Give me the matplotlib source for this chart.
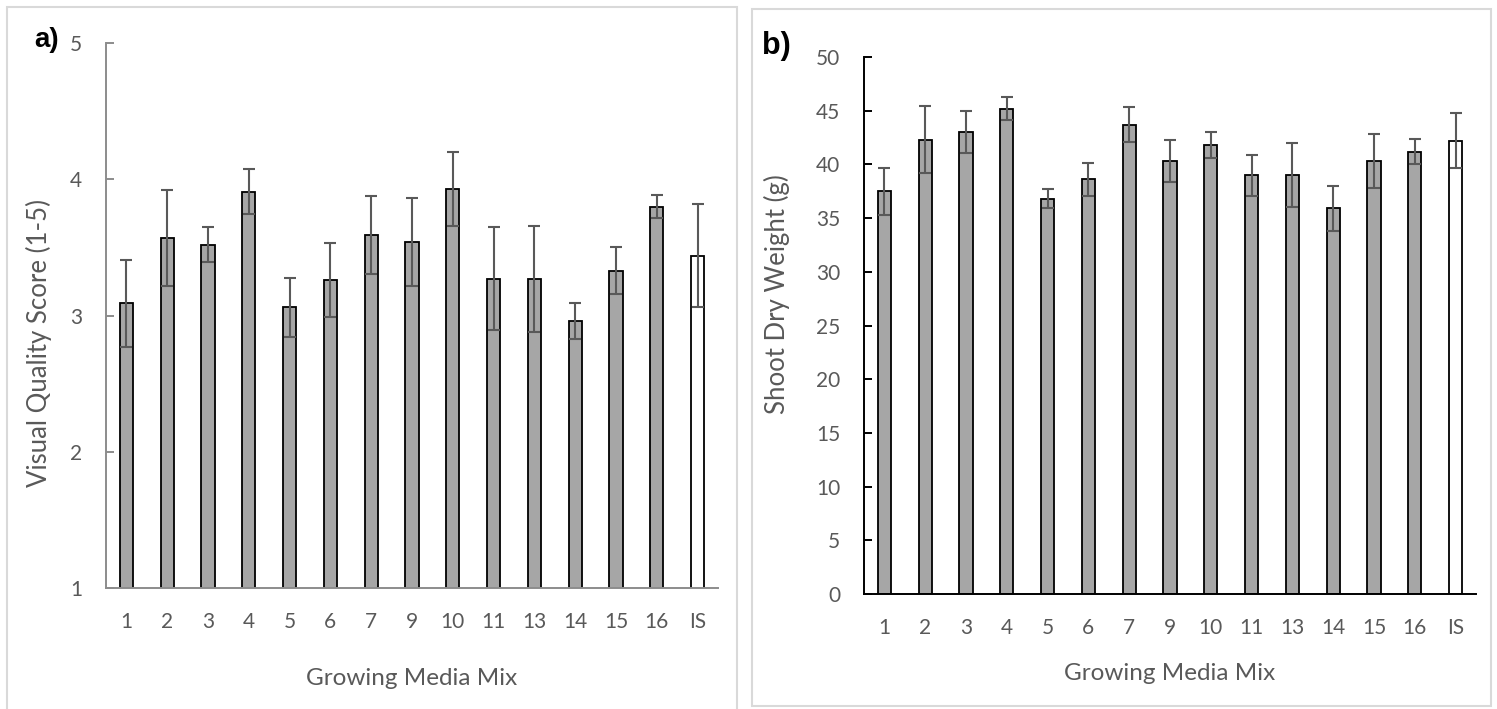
import matplotlib
import numpy as np

matplotlib.use("Agg")

from matplotlib import pyplot as plt
from matplotlib.patches import Rectangle

MIXES = ["1", "2", "3", "4", "5", "6", "7", "9", "10", "11", "13", "14", "15", "16", "IS"]

QUALITY = [3.09, 3.57, 3.52, 3.91, 3.06, 3.26, 3.59, 3.54, 3.93, 3.27, 3.27, 2.96, 3.33, 3.80, 3.44]
QUALITY_ERR = [0.32, 0.35, 0.13, 0.165, 0.215, 0.27, 0.285, 0.32, 0.27, 0.38, 0.39, 0.13, 0.175, 0.085, 0.375]

WEIGHT = [37.5, 42.3, 43.0, 45.2, 36.8, 38.6, 43.7, 40.3, 41.8, 39.0, 39.0, 35.9, 40.3, 41.2, 42.2]
WEIGHT_ERR = [2.2, 3.1, 1.95, 1.1, 0.9, 1.5, 1.65, 1.95, 1.2, 1.9, 3.0, 2.1, 2.5, 1.2, 2.55]

W, H = 1497, 709
TEXT_GREY = "#595959"
BAR_GREY = "#a6a6a6"
FONT = "Lato"

plt.rcParams["font.family"] = [FONT, "DejaVu Sans"]

fig = plt.figure(figsize=(W / 100, H / 100), dpi=100)


def px_axes(left, top, right, bottom):
    return fig.add_axes([left / W, 1 - bottom / H, (right - left) / W, (bottom - top) / H])


def panel_box(left, top, right, bottom):
    fig.patches.append(
        Rectangle((left / W, 1 - bottom / H), (right - left) / W, (bottom - top) / H,
                  transform=fig.transFigure, fill=False, edgecolor="#d9d9d9", linewidth=1.5)
    )


def draw_panel(ax, values, errors, ylim, yticks, ylabel, axis_color, xlabelpad):
    x = np.arange(len(MIXES))
    colors = [BAR_GREY] * (len(MIXES) - 1) + ["white"]
    ax.bar(x, values, width=0.32, color=colors, edgecolor="black", linewidth=1.3, zorder=2)
    ax.errorbar(x, values, yerr=errors, fmt="none", ecolor=TEXT_GREY, elinewidth=1.5,
                capsize=4, capthick=1.5, zorder=3)
    ax.set_xlim(-0.5, len(MIXES) - 0.5)
    ax.set_ylim(*ylim)
    ax.set_yticks(yticks)
    ax.set_xticks(x)
    ax.set_xticklabels(MIXES)
    ax.patch.set_alpha(0)
    for side in ["top", "right"]:
        ax.spines[side].set_visible(False)
    for side in ["left", "bottom"]:
        ax.spines[side].set_color(axis_color)
        ax.spines[side].set_linewidth(1.4)
    ax.tick_params(axis="y", direction="in", length=6, width=1.4, color=axis_color,
                   pad=17, labelsize=15, labelcolor=TEXT_GREY)
    ax.tick_params(axis="x", length=0, pad=17, labelsize=15, labelcolor=TEXT_GREY)
    ax.set_xlabel("Growing Media Mix", fontsize=17.5, color=TEXT_GREY, labelpad=xlabelpad)
    ax.set_ylabel(ylabel, fontsize=18.5, color=TEXT_GREY)


panel_box(7, 7, 737, 715)
panel_box(752, 9, 1491, 706)

ax_a = px_axes(106, 43, 718, 588)
draw_panel(ax_a, QUALITY, QUALITY_ERR, (1, 5), [1, 2, 3, 4, 5],
           "Visual Quality Score (1-5)", "#8c8c8c", 26)
ax_a.yaxis.set_label_coords((52 - 106) / 612, (588 - 343) / 545)

ax_b = px_axes(864, 57, 1476, 594)
draw_panel(ax_b, WEIGHT, WEIGHT_ERR, (0, 50), list(range(0, 51, 5)),
           "Shoot Dry Weight (g)", "black", 18.5)
ax_b.yaxis.set_label_coords((790 - 864) / 612, (594 - 294) / 537)

fig.text(34 / W, 1 - 40 / H, "a)", fontsize=20, fontweight="bold", family="Liberation Sans",
         va="center", ha="left")
fig.text(762 / W, 1 - 46 / H, "b)", fontsize=22, fontweight="bold", family="Liberation Sans",
         va="center", ha="left")

fig.savefig("out.png", dpi=100)
